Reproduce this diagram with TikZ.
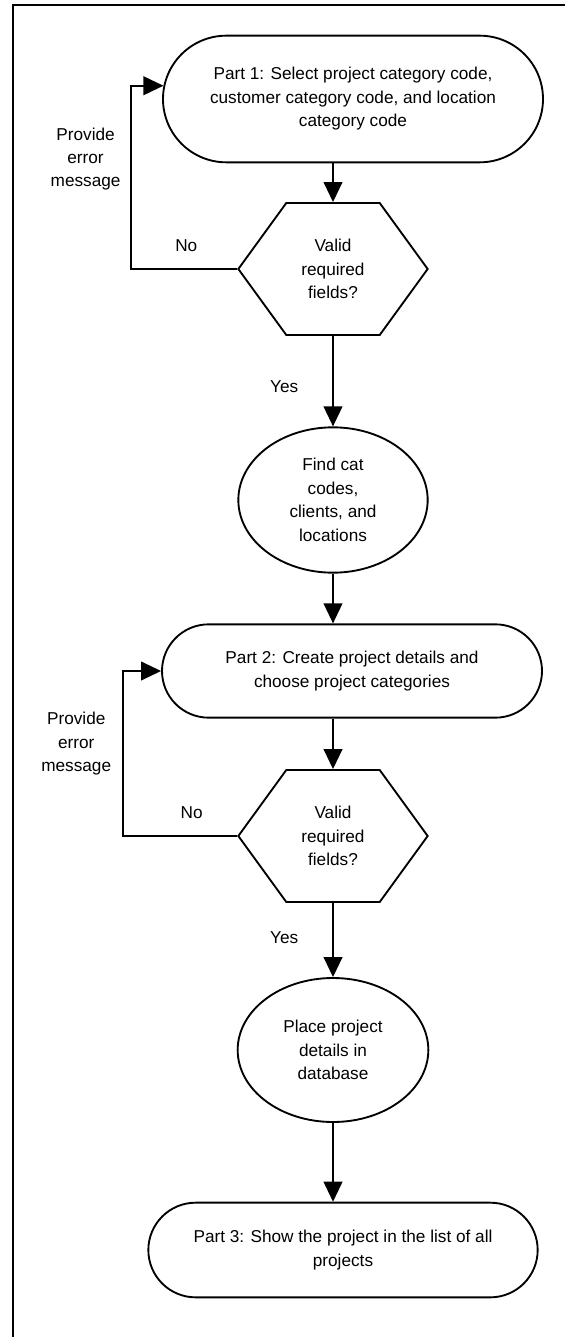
\documentclass[tikz,border=0pt]{standalone}
\usepackage{fontspec}
\setmainfont{Liberation Sans}
\usetikzlibrary{arrows.meta, shapes.misc, shapes.geometric, shapes.symbols}

\begin{document}
\begin{tikzpicture}[x=0.75pt, y=-0.75pt, ->, >={Triangle[length=15pt,width=14pt]},
  line width=1.4pt, font=\fontsize{12.9}{17.6}\selectfont,
  part node/.style={rounded rectangle, draw, align=center, inner sep=0pt},
  check node/.style={signal, signal to=west and east, signal pointer angle=108,
    draw, align=center, inner sep=0pt, minimum width=142pt, minimum height=99pt},
  task node/.style={ellipse, draw, align=center, inner sep=0pt}]

  \useasboundingbox (0,0) rectangle (564,1337);
  \draw[-, line width=0.8pt] (13,1340) -- (13,5) -- (570,5);

  \node[part node, minimum width=285pt, minimum height=95pt] (part1) at (353,99)
    {Part 1: Select project category code,\\ customer category code, and location\\ category code};
  \node[check node] (check1) at (333,269) {Valid\\ required\\ fields?};
  \node[task node, minimum width=142pt, minimum height=109pt] (find) at (333,500)
    {Find cat\\ codes,\\ clients, and\\ locations};
  \node[part node, minimum width=285pt, minimum height=70pt] (part2) at (352,671)
    {Part 2: Create project details and\\ choose project categories};
  \node[check node] (check2) at (333,836) {Valid\\ required\\ fields?};
  \node[task node, minimum width=143pt, minimum height=108pt] (place) at (333,1050)
    {Place project\\ details in\\ database};
  \node[part node, minimum width=292pt, minimum height=71pt] (part3) at (343,1250)
    {Part 3: Show the project in the list of all\\ projects};

  \path (check1.north |- part1.south) edge (check1.north)
    (check1.south) edge node[left=22pt, pos=0.56] {Yes} (find.north)
    (find.south) edge (find.south |- part2.north)
    (check2.north |- part2.south) edge (check2.north)
    (check2.south) edge node[left=22pt, pos=0.47] {Yes} (place.north)
    (place.south) edge (place.south |- part3.north);

  % error loops back to the form
  \draw (check1.west) -- node[above=9pt, pos=0.48] {No} ++(-106,0)
    |- node[pos=0.3, left=4pt, align=center] {Provide\\ error\\ message} (part1.176);
  \draw (check2.west) -- node[above=9pt, pos=0.4] {No} ++(-114,0)
    |- node[pos=0.28, left=5pt, align=center] {Provide\\ error\\ message} (part2.west);
\end{tikzpicture}
\end{document}
